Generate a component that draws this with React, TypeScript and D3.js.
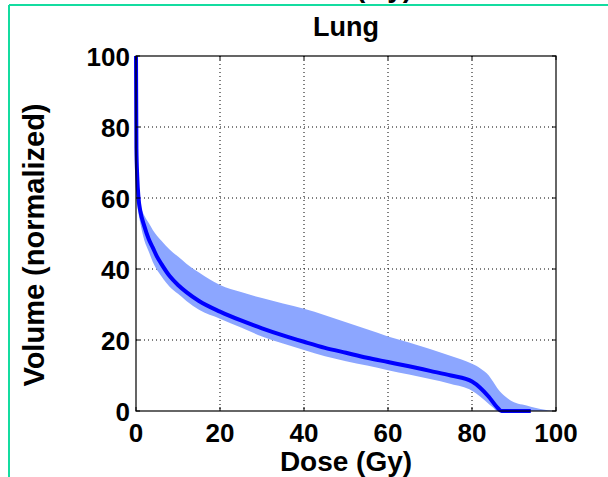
import React from "react";
import * as d3 from "d3";

const doseMean = [0, 0.1, 0.3, 0.6, 1, 2, 3, 4, 5, 6, 8, 10, 12, 15, 20, 25, 30, 35, 40, 45, 50, 55, 60, 65, 70, 75, 80, 82, 84, 86, 87, 94];
const volMean = [100, 74, 66, 60, 56.5, 52, 48.5, 46, 43.5, 41.5, 38, 35.5, 33.5, 31, 28, 25.5, 23.3, 21.3, 19.5, 17.8, 16.4, 15, 13.8, 12.6, 11.3, 10, 8.3, 6.5, 4, 1, 0, 0];

const doseBand = [0, 1, 2, 3, 4, 6, 8, 10, 12, 15, 20, 25, 30, 35, 40, 45, 50, 55, 60, 65, 70, 75, 80, 82, 84, 85, 86, 88, 90, 92, 94, 96, 98, 100];
const volUpper = [60, 57.5, 55, 53, 51, 48, 45.5, 43.5, 41.5, 39, 35.5, 33.5, 31.8, 30.3, 28.8, 27, 25, 23, 21, 19.3, 17.5, 15.5, 13.3, 12, 10, 8.3, 6.5, 4, 2.5, 1.8, 1.2, 0.6, 0.2, 0];
const volLower = [60, 53, 48, 45, 42, 38, 35, 33, 31, 28.5, 26, 23.5, 21, 19, 17.2, 15.4, 14, 12.8, 11.5, 10.3, 9, 7.6, 5.7, 4, 2, 1, 0, 0, 0, 0, 0, 0, 0, 0];

const xTicks = [0, 20, 40, 60, 80, 100];
const yTicks = [0, 20, 40, 60, 80, 100];

const title = "Lung";
const xLabel = "Dose (Gy)";
const yLabel = "Volume (normalized)";

export default function App() {
  const W = 608, H = 477;
  const L = 136, R = 556, T = 56, B = 411;
  const x = d3.scaleLinear().domain([0, 100]).range([L, R]);
  const y = d3.scaleLinear().domain([0, 100]).range([B, T]);
  const font = "'Liberation Sans', Arial, sans-serif";

  const bandData = doseBand.map((d, i) => ({ d, u: volUpper[i], l: volLower[i] }));
  const area = d3.area<any>().x((p) => x(p.d)).y0((p) => y(p.l)).y1((p) => y(p.u)).curve(d3.curveMonotoneX);
  const meanData = doseMean.map((d, i) => ({ d, v: volMean[i] }));
  const line = d3.line<any>().x((p) => x(p.d)).y((p) => y(p.v)).curve(d3.curveMonotoneX);

  const green = "#14dca0";

  return (
    <svg width={W} height={H} style={{ position: "absolute", left: 0, top: 0, background: "#fff" }}>
      <rect x={0} y={0} width={W} height={H} fill="#fff" />
      {/* partial label of subplot above (only descenders visible, as in reference) */}
      <text x={346} y={-3} textAnchor="middle" fontFamily={font} fontWeight="bold" fontSize={28} fill="#000">{xLabel}</text>
      <line x1={9} x2={W} y1={5} y2={5} stroke={green} strokeWidth={2} />
      <line x1={9} x2={9} y1={5} y2={H} stroke={green} strokeWidth={2} />

      {xTicks.slice(1, -1).map((t) => (
        <line key={"gx" + t} x1={x(t)} x2={x(t)} y1={T} y2={B} stroke="#000" strokeWidth={1} strokeDasharray="1 3" />
      ))}
      {yTicks.slice(1, -1).map((t) => (
        <line key={"gy" + t} x1={L} x2={R} y1={y(t)} y2={y(t)} stroke="#000" strokeWidth={1} strokeDasharray="1 3" />
      ))}

      <path d={area(bandData) || ""} fill="#8ca6ff" stroke="none" />
      <path d={line(meanData) || ""} fill="none" stroke="#0000ff" strokeWidth={4} strokeLinejoin="round" />

      <rect x={L} y={T} width={R - L} height={B - T} fill="none" stroke="#000" strokeWidth={1.2} />
      {xTicks.map((t) => (
        <g key={"tx" + t}>
          <line x1={x(t)} x2={x(t)} y1={B} y2={B - 4} stroke="#000" />
          <line x1={x(t)} x2={x(t)} y1={T} y2={T + 4} stroke="#000" />
        </g>
      ))}
      {yTicks.map((t) => (
        <g key={"ty" + t}>
          <line x1={L} x2={L + 4} y1={y(t)} y2={y(t)} stroke="#000" />
          <line x1={R} x2={R - 4} y1={y(t)} y2={y(t)} stroke="#000" />
        </g>
      ))}

      {xTicks.map((t) => (
        <text key={"lx" + t} x={x(t)} y={442} textAnchor="middle" fontFamily={font} fontWeight="bold" fontSize={26} fill="#000">{t}</text>
      ))}
      {yTicks.map((t) => (
        <text key={"ly" + t} x={130} y={y(t) + 9.5} textAnchor="end" fontFamily={font} fontWeight="bold" fontSize={26} fill="#000">{t}</text>
      ))}

      <text x={346} y={36} textAnchor="middle" fontFamily={font} fontWeight="bold" fontSize={27} fill="#000">{title}</text>
      <text x={346} y={471} textAnchor="middle" fontFamily={font} fontWeight="bold" fontSize={28} fill="#000">{xLabel}</text>
      <text transform={`translate(44,245) rotate(-90)`} textAnchor="middle" fontFamily={font} fontWeight="bold" fontSize={29} fill="#000">{yLabel}</text>
    </svg>
  );
}
